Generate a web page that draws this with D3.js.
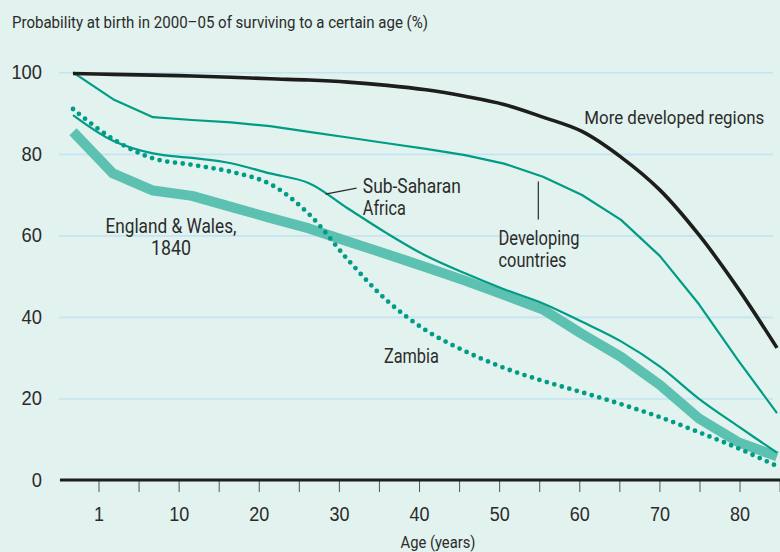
<!DOCTYPE html>
<html>
<head>
<meta charset="utf-8">
<script src="https://cdn.jsdelivr.net/npm/d3@7"></script>
<style>
  body { margin: 0; background: #e2f2ee; }
  svg { display: block; font-family: Roboto, "Liberation Sans", sans-serif; }
  .axis text { fill: #2b2b2b; }
</style>
</head>
<body>
<div class="chart"></div>
<script>
// Ages at which survival is given (years)
const ages = [0, 1, 5, 10, 15, 20, 25, 30, 35, 40, 45, 50, 55, 60, 65, 70, 75, 80, 85];

// Probability of surviving to each age (%)
const moreDeveloped = [99.7, 99.5, 99.3, 99.1, 98.8, 98.4, 98.1, 97.6, 96.8, 95.7, 94.1, 92.1, 89.0, 85.5, 79.2, 71.1, 60.1, 47.0, 32.4];
const developing    = [100, 93.4, 89.0, 88.3, 87.7, 86.8, 85.4, 84.0, 82.6, 81.2, 79.7, 77.6, 74.4, 69.9, 63.8, 54.9, 43.1, 29.4, 16.4];
const subSaharan    = [89.5, 83.2, 80.1, 79.0, 77.7, 75.2, 72.8, 66.6, 60.5, 55.0, 50.7, 46.8, 43.3, 38.8, 34.0, 27.8, 19.9, 13.2, 6.7];
const zambia        = [91.0, 83.6, 78.9, 77.3, 75.6, 72.6, 65.2, 54.0, 44.0, 36.7, 31.6, 27.5, 24.3, 21.5, 18.6, 15.4, 11.7, 7.8, 3.4];
const england1840   = [85.4, 75.2, 71.0, 69.7, 67.0, 64.3, 61.7, 58.5, 55.4, 52.2, 48.9, 45.4, 41.8, 35.8, 30.2, 23.3, 15.1, 9.3, 5.8];

// Axis ticks
const xTickAges = ["1", "5", "10", "15", "20", "25", "30", "35", "40", "45", "50", "55", "60", "65", "70", "75", "80", "85"];
const xTickShown = ["1", "10", "20", "30", "40", "50", "60", "70", "80"];
const yTicks = [0, 20, 40, 60, 80, 100];

const width = 780;
const height = 552;

// The reference uses a condensed face: squeeze text to its measured width
function fit(sel, w) {
    sel.attr("textLength", w).attr("lengthAdjust", "spacingAndGlyphs");
}

const svg = d3.select(".chart")
    .append("svg")
    .attr("width", width)
    .attr("height", height);

// Background
svg.append("rect")
    .attr("width", width)
    .attr("height", height)
    .attr("fill", "#e2f2ee");

// Scales
const x = d3.scaleLinear()
    .domain([0, 1, 5, 85])
    .range([73, 113, 153, 777]);

const xTicks = d3.scalePoint()
    .domain(xTickAges)
    .range([98.5, 779.6]);

const y = d3.scaleLinear()
    .domain([0, 100])
    .range([480, 72.3]);

// Title
svg.append("text")
    .attr("x", 12)
    .attr("y", 28)
    .attr("font-size", 17)
    .attr("fill", "#2b2b2b")
    .text("Probability at birth in 2000\u201305 of surviving to a certain age (%)")
    .call(fit, 416);

// Y axis with gridlines
const yAxis = svg.append("g")
    .attr("class", "axis axis--y")
    .attr("transform", "translate(59,0)")
    .call(d3.axisLeft(y).tickValues(yTicks).tickSize(-(773 - 59)).tickPadding(17));
yAxis.select(".domain").remove();
yAxis.selectAll("line")
    .attr("stroke", "#c3e4f3")
    .attr("stroke-width", 1.6);
yAxis.selectAll("text")
    .attr("font-size", 20)
    .each(function(d) { d3.select(this).call(fit, 10.2 * String(d).length); });

// X axis
const xAxis = svg.append("g")
    .attr("class", "axis axis--x")
    .attr("transform", `translate(0,${y(0)})`)
    .call(d3.axisBottom(xTicks)
        .tickSize(12)
        .tickPadding(15)
        .tickFormat(d => xTickShown.includes(d) ? d : ""));
xAxis.select(".domain").remove();
xAxis.selectAll("line")
    .attr("stroke", "#555")
    .attr("stroke-width", 1);
xAxis.selectAll("text")
    .attr("font-size", 20)
    .filter(d => xTickShown.includes(d))
    .each(function(d) { d3.select(this).call(fit, 10 * d.length); });

// Baseline
svg.append("line")
    .attr("x1", 60)
    .attr("x2", width)
    .attr("y1", y(0))
    .attr("y2", y(0))
    .attr("stroke", "#1e1e1e")
    .attr("stroke-width", 3);

// X axis label
svg.append("text")
    .attr("x", 438)
    .attr("y", 548)
    .attr("text-anchor", "middle")
    .attr("font-size", 16)
    .attr("fill", "#2b2b2b")
    .text("Age (years)")
    .call(fit, 75);

// Lines
const smooth = d3.curveCatmullRom.alpha(0.5);
const series = [
    {name: "england", values: england1840, color: "#5dc1b2", width: 10, curve: d3.curveLinear},
    {name: "developing", values: developing, color: "#009c85", width: 2.2, curve: d3.curveLinear},
    {name: "subSaharan", values: subSaharan, color: "#009c85", width: 2.2, curve: smooth},
    {name: "zambia", values: zambia, color: "#009c85", width: 4.8, curve: smooth, dash: "0 7.8"},
    {name: "moreDeveloped", values: moreDeveloped, color: "#1d1d1b", width: 3.6, curve: smooth}
];

series.forEach(function(s) {
    const line = d3.line()
        .x((d, i) => x(ages[i]))
        .y(d => y(d))
        .curve(s.curve);

    svg.append("path")
        .datum(s.values)
        .attr("class", "line " + s.name)
        .attr("fill", "none")
        .attr("stroke", s.color)
        .attr("stroke-width", s.width)
        .attr("stroke-linejoin", "round")
        .attr("stroke-linecap", s.dash ? "round" : "butt")
        .attr("stroke-dasharray", s.dash || null)
        .attr("d", line);
});

// Labels (positioned in age / percent units), one text per line with its measured width
const labels = [
    {lines: ["More developed regions"], widths: [180], age: 60.3, pct: 87.2, anchor: "start", size: 18},
    {lines: ["England & Wales,", "1840"], widths: [131, 40], age: 7.3, pct: 60.6, anchor: "middle", size: 20},
    {lines: ["Sub-Saharan", "Africa"], widths: [98, 43], age: 31.9, pct: 70.3, anchor: "start", size: 20},
    {lines: ["Developing", "countries"], widths: [81, 68], age: 49.3, pct: 57.6, anchor: "start", size: 20},
    {lines: ["Zambia"], widths: [55], age: 34.6, pct: 28.8, anchor: "start", size: 20}
];

labels.forEach(function(l) {
    l.lines.forEach(function(str, i) {
        svg.append("text")
            .attr("class", "label")
            .attr("x", x(l.age))
            .attr("y", y(l.pct) + i * 22)
            .attr("text-anchor", l.anchor)
            .attr("font-size", l.size)
            .attr("fill", "#2b2b2b")
            .text(str)
            .call(fit, l.widths[i]);
    });
});

// Pointer lines
const pointers = [
    {from: [27.1, 70.1], to: [31.1, 71.6]},
    {from: [54.4, 73.2], to: [54.4, 63.9]}
];

svg.selectAll(".pointer")
    .data(pointers)
    .enter().append("line")
    .attr("class", "pointer")
    .attr("x1", d => x(d.from[0]))
    .attr("y1", d => y(d.from[1]))
    .attr("x2", d => x(d.to[0]))
    .attr("y2", d => y(d.to[1]))
    .attr("stroke", "#2b2b2b")
    .attr("stroke-width", 1.2);
</script>
</body>
</html>
